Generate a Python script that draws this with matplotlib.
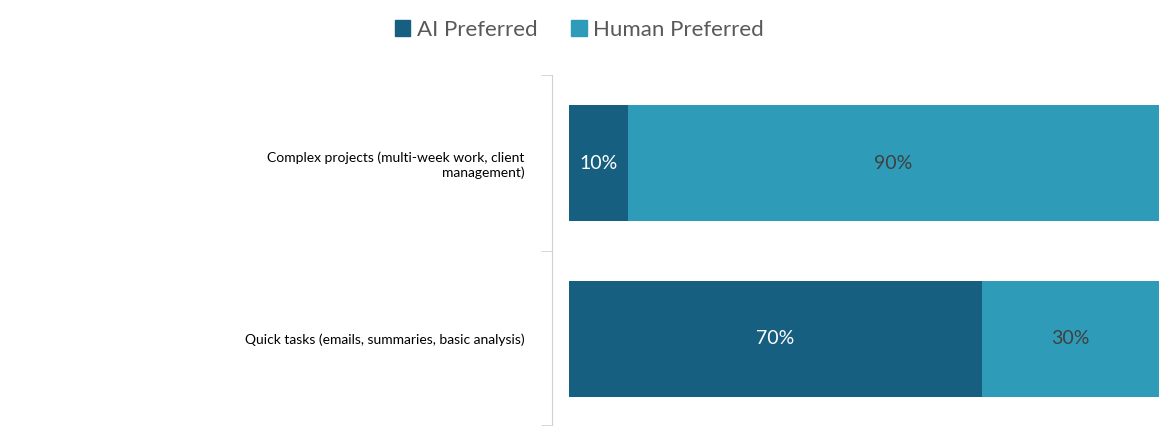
import matplotlib.pyplot as plt
from matplotlib.patches import Patch

categories = ["Quick tasks (emails, summaries, basic analysis)",
              "Complex projects (multi-week work, client\nmanagement)"]
ai_pref = [70, 10]
human_pref = [30, 90]

c_ai = "#175f80"
c_human = "#2e9bb9"

plt.rcParams['font.family'] = ['Lato', 'DejaVu Sans']

fig = plt.figure(figsize=(11.59, 4.29), dpi=100)
ax = fig.add_axes([0.491, 0.009, 0.509, 0.816])

y = range(len(categories))
h = 0.66
ax.barh(y, ai_pref, height=h, color=c_ai)
ax.barh(y, human_pref, left=ai_pref, height=h, color=c_human)

for i in y:
    ax.text(ai_pref[i] / 2, i, f"{ai_pref[i]}%", ha='center', va='center',
            color='white', fontsize=14)
    ax.text(ai_pref[i] + human_pref[i] / 2, i, f"{human_pref[i]}%", ha='center',
            va='center', color='#404040', fontsize=14)

ax.set_xlim(0, 100)
ax.set_ylim(-0.49, 1.5)
ax.set_xticks([])
ax.set_yticks(list(y))
ax.set_yticklabels(categories, fontsize=16, color='#595959')
ax.tick_params(axis='y', which='major', length=0, pad=20)
ax.set_yticks([-0.49, 0.5, 1.5], minor=True)
ax.tick_params(axis='y', which='minor', length=8, color='#d0d0d0')
for t in ax.get_yticklabels():
    t.set_multialignment('right')
for s in ['top', 'right', 'bottom']:
    ax.spines[s].set_visible(False)
ax.spines['left'].set_color('#d0d0d0')
ax.spines['left'].set_position(('outward', 12))

handles = [Patch(color=c_ai, label='AI Preferred'),
           Patch(color=c_human, label='Human Preferred')]
fig.legend(handles=handles, loc='upper center', bbox_to_anchor=(0.5, 1.0),
           ncol=2, frameon=False, fontsize=16, handlelength=0.7,
           handleheight=0.7, handletextpad=0.3, columnspacing=1.5,
           labelcolor='#595959')

fig.savefig("out.png", dpi=100)
